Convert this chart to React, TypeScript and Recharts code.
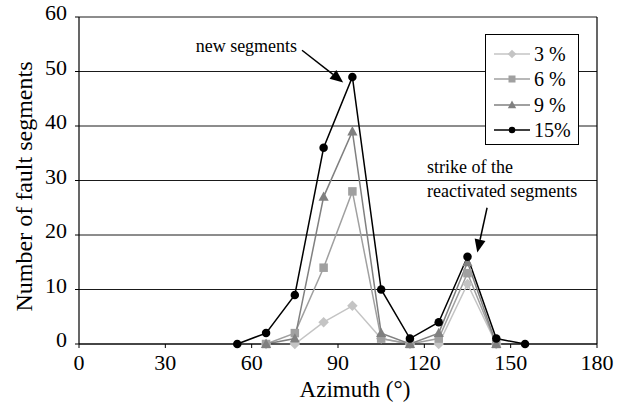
import React from 'react';
import {
  LineChart, Line, XAxis, YAxis, CartesianGrid, Legend, ReferenceLine, ReferenceDot,
} from 'recharts';

const azimuth = [55, 65, 75, 85, 95, 105, 115, 125, 135, 145, 155];
const s3 = [null, 0, 0, 4, 7, 1, 0, 0, 11, 0, null];
const s6 = [null, 0, 2, 14, 28, 1, 0, 1, 13, 0, null];
const s9 = [null, 0, 1, 27, 39, 2, 0, 2, 15, 0, null];
const s15 = [0, 2, 9, 36, 49, 10, 1, 4, 16, 1, 0];

const xTicks = [0, 30, 60, 90, 120, 150, 180];
const yTicks = [0, 10, 20, 30, 40, 50, 60];

const seriesNames = ['3 %', '6 %', '9 %', '15%'];
const seriesKeys = ['s3', 's6', 's9', 's15'];
const seriesColors = ['#c4c4c4', '#a0a0a0', '#808080', '#000000'];
const seriesShapes = ['diamond', 'square', 'triangle', 'circle'];

// annotations in data coordinates: [x1, y1, x2, y2]
const arrows = [
  [77.5, 53.9, 91.8, 48.0],
  [141.8, 25.0, 138.4, 16.8],
];
const notes = [
  { x: 75.8, y: 53.6, text: 'new segments', anchor: 'end' },
  { x: 120.9, y: 31.4, text: 'strike of the', anchor: 'start' },
  { x: 120.9, y: 27.0, text: 'reactivated segments', anchor: 'start' },
];

const data = azimuth.map((a, i) => ({ az: a, s3: s3[i], s6: s6[i], s9: s9[i], s15: s15[i] }));

const FONT = 'Liberation Serif';

function Marker({ shape, color, cx, cy, s }: any) {
  if (shape === 'circle') return <circle cx={cx} cy={cy} r={s * 0.5} fill={color} stroke="none" />;
  if (shape === 'square') return <rect x={cx - s / 2} y={cy - s / 2} width={s} height={s} fill={color} stroke="none" />;
  if (shape === 'triangle') {
    const h = s * 1.05;
    return <polygon points={`${cx},${cy - h * 0.6} ${cx + s * 0.6},${cy + h * 0.45} ${cx - s * 0.6},${cy + h * 0.45}`} fill={color} stroke="none" />;
  }
  const d = s * 0.62;
  return <polygon points={`${cx},${cy - d} ${cx + d},${cy} ${cx},${cy + d} ${cx - d},${cy}`} fill={color} stroke="none" />;
}

const makeDot = (shape: string, color: string) => (props: any) => {
  const { cx, cy, index, value } = props;
  if (cx == null || cy == null || value == null || Number.isNaN(cy)) return <g key={`d-${index}`} />;
  return <g key={`d-${index}`}><Marker shape={shape} color={color} cx={cx} cy={cy} s={8.5} /></g>;
};

const ArrowShape = (props: any) => {
  const { x1, y1, x2, y2 } = props;
  const dx = x2 - x1, dy = y2 - y1;
  const len = Math.sqrt(dx * dx + dy * dy);
  const ux = dx / len, uy = dy / len;
  const hl = 13, hw = 5.5;
  const bx = x2 - ux * hl, by = y2 - uy * hl;
  const px = -uy, py = ux;
  return (
    <g>
      <line x1={x1} y1={y1} x2={bx} y2={by} stroke="#000" strokeWidth={1.5} />
      <polygon points={`${x2},${y2} ${bx + px * hw},${by + py * hw} ${bx - px * hw},${by - py * hw}`} fill="#000" />
    </g>
  );
};

const LegendBox = () => (
  <div style={{
    width: 92, height: 103, border: '1px solid #000', background: '#fff',
    paddingTop: 6, boxSizing: 'content-box', fontFamily: FONT,
  }}>
    {seriesNames.map((n, i) => (
      <div key={n} style={{ height: 25.5, display: 'flex', alignItems: 'center' }}>
        <svg width={48} height={14} style={{ display: 'block' }}>
          <line x1={8} y1={7} x2={44} y2={7} stroke={seriesColors[i]} strokeWidth={1.5} />
          <Marker shape={seriesShapes[i]} color={seriesColors[i]} cx={26} cy={7} s={i === 3 ? 6.5 : 7} />
        </svg>
        <span style={{ fontSize: 20, color: '#000', lineHeight: '20px', fontFamily: FONT }}>{n}</span>
      </div>
    ))}
  </div>
);

const YTick = ({ x, y, payload }: any) => (
  <text x={x} y={y} dy={3} textAnchor="end" style={{ fontFamily: FONT }} fontSize={22} fill="#000">{payload.value}</text>
);
const XTick = ({ x, y, payload }: any) => (
  <text x={x} y={y} dy={15} textAnchor="middle" style={{ fontFamily: FONT }} fontSize={22} fill="#000">{payload.value}</text>
);

export default function App() {
  return (
    <div style={{ position: 'absolute', left: 0, top: 0, width: 626, height: 409, background: '#fff', fontFamily: FONT }}>
      <LineChart width={626} height={409} data={data} margin={{ top: 17, right: 29, bottom: 0, left: 0 }} style={{ fontFamily: FONT }}>
        <CartesianGrid horizontal vertical={false} stroke="#1a1a1a" strokeWidth={1} />
        <XAxis
          dataKey="az" type="number" domain={[0, 180]} ticks={xTicks} height={65}
          axisLine={{ stroke: '#000', strokeWidth: 1.2 }} tickLine={{ stroke: '#000' }} tickSize={4} tickMargin={7}
          tick={<XTick />} interval={0}
          label={{
            content: ({ viewBox }: any) => (
              <text x={viewBox.x + viewBox.width / 2 + 17} y={viewBox.y + 53} textAnchor="middle" style={{ fontFamily: FONT }} fontSize={23} fill="#000">Azimuth (°)</text>
            ),
          }}
        />
        <YAxis
          type="number" domain={[0, 60]} ticks={yTicks} width={79} interval={0}
          axisLine={{ stroke: '#000', strokeWidth: 1.2 }} tickLine={{ stroke: '#000' }} tickSize={4} tickMargin={8}
          tick={<YTick />}
          label={{
            content: ({ viewBox }: any) => {
              const cx = viewBox.x + 32;
              const cy = viewBox.y + viewBox.height / 2 + 6;
              return (
                <text x={cx} y={cy} transform={`rotate(-90, ${cx}, ${cy})`} textAnchor="middle" style={{ fontFamily: FONT }} fontSize={24} fill="#000">Number of fault segments</text>
              );
            },
          }}
        />
        <ReferenceLine x={180} stroke="#000" strokeWidth={1.2} />
        {seriesKeys.map((k, i) => (
          <Line
            key={k} dataKey={k} name={seriesNames[i]} stroke={seriesColors[i]} strokeWidth={1.5}
            dot={makeDot(seriesShapes[i], seriesColors[i])} activeDot={false}
            isAnimationActive={false} connectNulls={false}
          />
        ))}
        {arrows.map((a, i) => (
          <ReferenceLine key={`ar-${i}`} segment={[{ x: a[0], y: a[1] }, { x: a[2], y: a[3] }]} shape={ArrowShape} ifOverflow="visible" />
        ))}
        {notes.map((n, i) => (
          <ReferenceDot
            key={`nt-${i}`} x={n.x} y={n.y} r={0} ifOverflow="visible"
            shape={(p: any) => (
              <text x={p.cx} y={p.cy} textAnchor={n.anchor as any} style={{ fontFamily: FONT }} fontSize={18} fill="#000">{n.text}</text>
            )}
          />
        ))}
        <Legend
          layout="vertical" align="center" verticalAlign="middle"
          content={<LegendBox />}
          wrapperStyle={{ position: 'absolute', left: 485, top: 34, width: 94, height: 111 }}
        />
      </LineChart>
    </div>
  );
}
